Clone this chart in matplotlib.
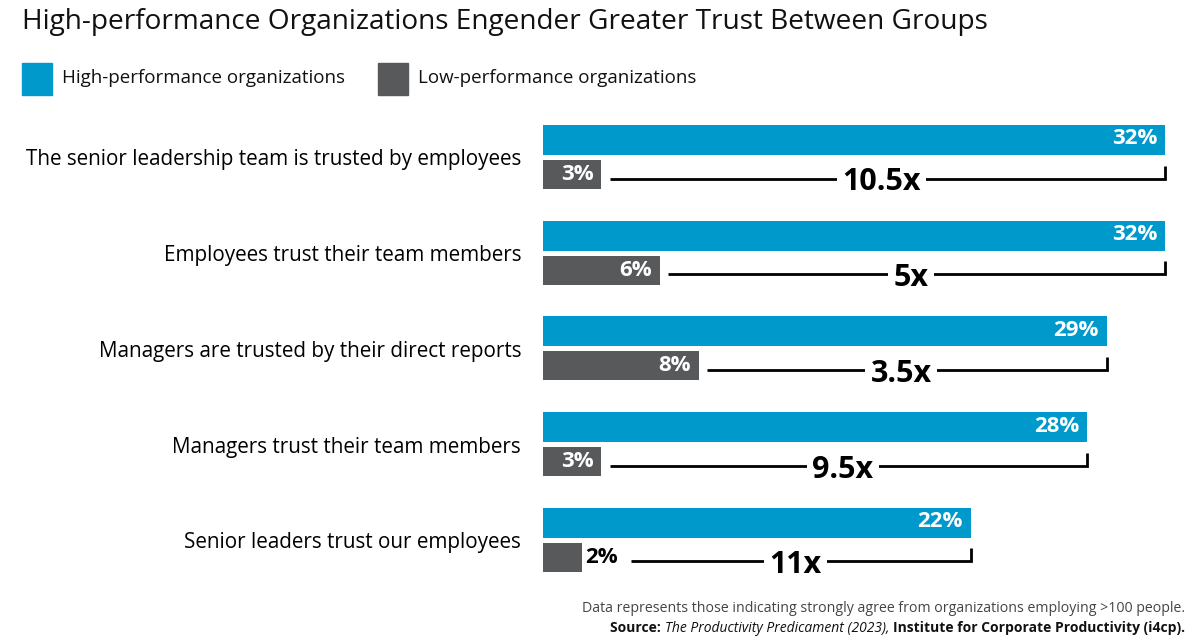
import matplotlib.pyplot as plt
from matplotlib.patches import Rectangle

plt.rcParams['font.family'] = ['Open Sans', 'DejaVu Sans']

# data
categories = ['The senior leadership team is trusted by employees',
              'Employees trust their team members',
              'Managers are trusted by their direct reports',
              'Managers trust their team members',
              'Senior leaders trust our employees']
high = [32, 32, 29, 28, 22]
low = [3, 6, 8, 3, 2]
ratios = ['10.5x', '5x', '3.5x', '9.5x', '11x']

BLUE = '#0099cc'
GRAY = '#58595b'
W, H = 1200, 641

fig = plt.figure(figsize=(W / 100, H / 100), dpi=100)
# axes in pixel units vertically, percent horizontally
ax = fig.add_axes([543 / W, 0, (W - 543) / W, 1])
ax.set_xlim(0, (W - 543) / 19.44)
ax.set_ylim(H, 0)
ax.axis('off')

top0, step, bh = 125, 95.7, 30
for i, (cat, h, l, r) in enumerate(zip(categories, high, low, ratios)):
    yb = top0 + i * step + bh / 2
    yg = yb + 34.5
    ax.barh(yb, h, height=bh, color=BLUE)
    ax.barh(yg, l, height=bh - 1, color=GRAY)
    ax.text(h - 0.4, yb - 1, f'{h}%', color='white', fontsize=16,
            fontweight='bold', ha='right', va='center')
    if l >= 3:
        ax.text(l - 0.4, yg, f'{l}%', color='white', fontsize=16,
                fontweight='bold', ha='right', va='center')
        start = l + 0.45
    else:
        ax.text(l + 0.15, yg, f'{l}%', color='black', fontsize=16,
                fontweight='bold', ha='left', va='center')
        start = l + 2.55
    ly = yg + 4
    ax.plot([start, h, h], [ly, ly, yg - 9], color='black', lw=2,
            solid_joinstyle='miter', solid_capstyle='butt')
    ax.text((start + h) / 2 - 0.3, yg + 8, r, fontsize=22, fontweight='bold',
            ha='center', va='center',
            bbox=dict(facecolor='white', edgecolor='none', pad=4))
    ax.text(-1.13, yb + 20, cat, fontsize=14.9, ha='right', va='center')

# title and legend
fig.text(22 / W, 1 - 22 / H, 'High-performance Organizations Engender Greater Trust Between Groups',
         fontsize=20.2, va='center', color='#111111')
for x0, col, lab in [(22, BLUE, 'High-performance organizations'),
                     (378, GRAY, 'Low-performance organizations')]:
    fig.add_artist(Rectangle((x0 / W, 1 - 95 / H), 30 / W, 32 / H,
                             transform=fig.transFigure, color=col))
    fig.text((x0 + 40) / W, 1 - 78 / H, lab, fontsize=13.5, va='center',
             color='#111111')

# footnote
fig.text(1185 / W, 1 - 608 / H,
         'Data represents those indicating strongly agree from organizations employing >100 people.',
         fontsize=10.2, ha='right', va='center', color='#444444')
pieces = [('Source: ', 'normal', 'bold'),
          ('The Productivity Predicament (2023)', 'italic', 'normal'),
          (', ', 'italic', 'normal'),
          ('Institute for Corporate Productivity (i4cp).', 'normal', 'bold')]
renderer = fig.canvas.get_renderer()
xr = 1185
for txt, style, weight in reversed(pieces):
    t = fig.text(xr / W, 1 - 628 / H, txt, fontsize=10, ha='right', va='center',
                 style=style, fontweight=weight, color='#111111')
    bb = t.get_window_extent(renderer)
    xr = bb.x0

fig.savefig('out.png', dpi=100)
